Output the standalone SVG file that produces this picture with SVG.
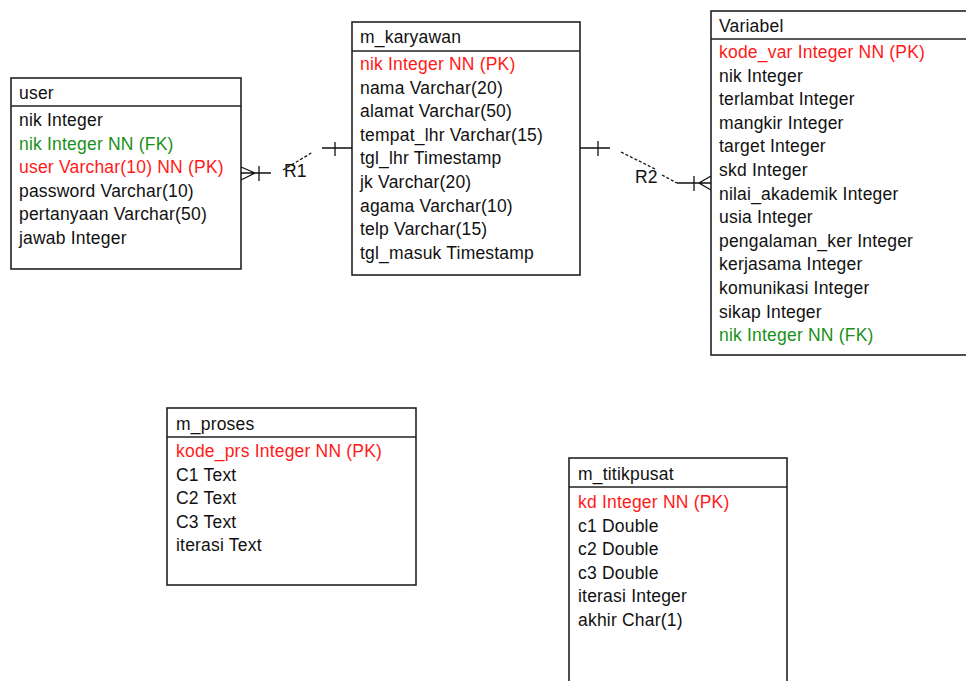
<svg xmlns="http://www.w3.org/2000/svg" width="966" height="681" viewBox="0 0 966 681">
<style>
.box{fill:#fff;stroke:#222;stroke-width:1.6}
.div{stroke:#222;stroke-width:1.6}
text{font-family:"Liberation Sans",Arial,sans-serif;font-size:17.5px;letter-spacing:0.2px;fill:#111}
.pk{fill:#ff1a1a}
.fk{fill:#1a901a}
.ln{stroke:#111;stroke-width:1.3;fill:none}
.dash{stroke:#111;stroke-width:1.3;fill:none;stroke-dasharray:3 2}
</style>
<rect width="966" height="681" fill="#fff"/>
<g id="user">
<rect class="box" x="11" y="78" width="230" height="191"/>
<line class="div" x1="11" y1="106" x2="241" y2="106"/>
<text x="19" y="99">user</text>
<text x="19" y="126">nik Integer</text>
<text x="19" y="149.6" class="fk">nik Integer NN (FK)</text>
<text x="19" y="173.2" class="pk">user Varchar(10) NN (PK)</text>
<text x="19" y="196.8">password Varchar(10)</text>
<text x="19" y="220.4">pertanyaan Varchar(50)</text>
<text x="19" y="244">jawab Integer</text>
</g>
<g id="m_karyawan">
<rect class="box" x="352" y="22" width="228" height="253"/>
<line class="div" x1="352" y1="51" x2="580" y2="51"/>
<text x="360" y="43">m_karyawan</text>
<text x="360" y="70" class="pk">nik Integer NN (PK)</text>
<text x="360" y="93.6">nama Varchar(20)</text>
<text x="360" y="117.2">alamat Varchar(50)</text>
<text x="360" y="140.8">tempat_lhr Varchar(15)</text>
<text x="360" y="164.4">tgl_lhr Timestamp</text>
<text x="360" y="188">jk Varchar(20)</text>
<text x="360" y="211.6">agama Varchar(10)</text>
<text x="360" y="235.2">telp Varchar(15)</text>
<text x="360" y="258.8">tgl_masuk Timestamp</text>
</g>
<g id="Variabel">
<rect class="box" x="711" y="11" width="270" height="344"/>
<line class="div" x1="711" y1="39" x2="981" y2="39"/>
<text x="719" y="31.5">Variabel</text>
<text x="719" y="58" class="pk">kode_var Integer NN (PK)</text>
<text x="719" y="81.6">nik Integer</text>
<text x="719" y="105.2">terlambat Integer</text>
<text x="719" y="128.8">mangkir Integer</text>
<text x="719" y="152.4">target Integer</text>
<text x="719" y="176">skd Integer</text>
<text x="719" y="199.6">nilai_akademik Integer</text>
<text x="719" y="223.2">usia Integer</text>
<text x="719" y="246.8">pengalaman_ker Integer</text>
<text x="719" y="270.4">kerjasama Integer</text>
<text x="719" y="294">komunikasi Integer</text>
<text x="719" y="317.6">sikap Integer</text>
<text x="719" y="341.2" class="fk">nik Integer NN (FK)</text>
</g>
<g id="m_proses">
<rect class="box" x="167" y="408" width="249" height="177"/>
<line class="div" x1="167" y1="437" x2="416" y2="437"/>
<text x="176" y="430">m_proses</text>
<text x="176" y="457" class="pk">kode_prs Integer NN (PK)</text>
<text x="176" y="480.6">C1 Text</text>
<text x="176" y="504.2">C2 Text</text>
<text x="176" y="527.8">C3 Text</text>
<text x="176" y="551.4">iterasi Text</text>
</g>
<g id="m_titikpusat">
<rect class="box" x="569" y="458" width="218" height="240"/>
<line class="div" x1="569" y1="487" x2="787" y2="487"/>
<text x="578" y="480">m_titikpusat</text>
<text x="578" y="508" class="pk">kd Integer NN (PK)</text>
<text x="578" y="531.6">c1 Double</text>
<text x="578" y="555.2">c2 Double</text>
<text x="578" y="578.8">c3 Double</text>
<text x="578" y="602.4">iterasi Integer</text>
<text x="578" y="626">akhir Char(1)</text>
</g>
<g id="connectors">
<g id="R1">
<path class="ln" d="M241 173 H271 M241 167 L255 173 L241 180 M259 166 V181 M322 148 H352 M335 142 V156"/>
<path class="dash" d="M283 170 L313 152"/>
<text x="284" y="177">R1</text>
</g>
<g id="R2">
<path class="ln" d="M580 148 H610 M598 141 V156 M677 183 H711 M694 176 V191 M711 176 L699 183 L711 190"/>
<path class="dash" d="M621 152 L655 169 M662 175 L677 183"/>
<text x="635" y="183">R2</text>
</g>
</g>
</svg>
